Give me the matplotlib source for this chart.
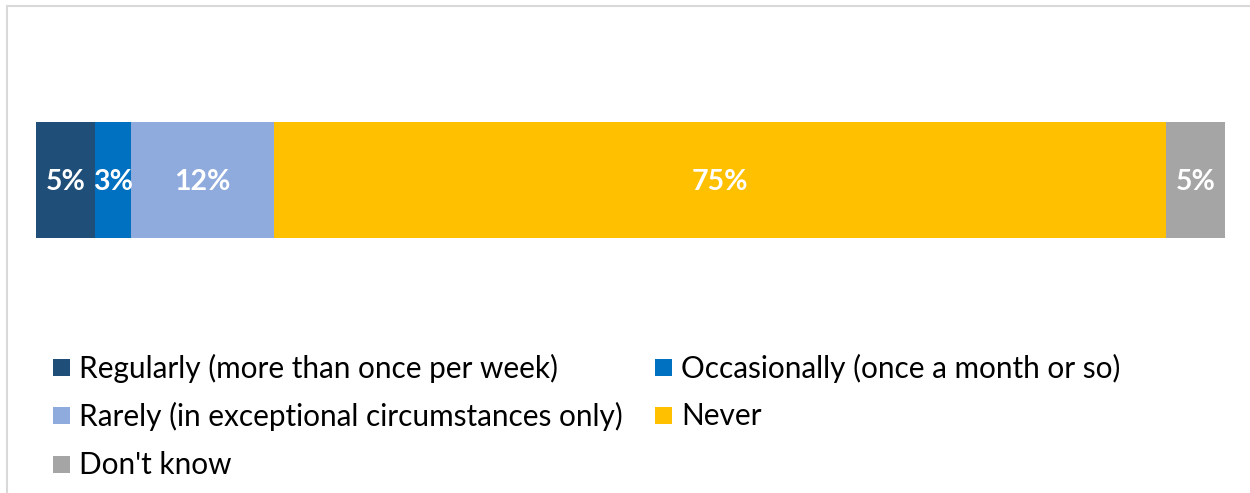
import matplotlib
matplotlib.use("Agg")
import matplotlib.pyplot as plt
from matplotlib.patches import Rectangle

# Survey response shares (%)
categories = [
    "Regularly (more than once per week)",
    "Occasionally (once a month or so)",
    "Rarely (in exceptional circumstances only)",
    "Never",
    "Don't know",
]
values = [5, 3, 12, 75, 5]
colors = ["#1F4E79", "#0070C0", "#8FAADC", "#FFC000", "#A5A5A5"]

plt.rcParams["font.family"] = ["Lato", "DejaVu Sans"]

W, H = 1250, 493
fig = plt.figure(figsize=(W / 100, H / 100), dpi=100)

# light frame around the chart area
fig.patches.append(Rectangle((6.5 / W, -0.1), 1.2, 1 - 6.5 / H + 0.1,
                             transform=fig.transFigure, fill=False,
                             edgecolor="#D9D9D9", linewidth=1.5))

ax = fig.add_axes([36 / W, 1 - 238 / H, 1189 / W, 116 / H])
left = 0
for v, c in zip(values, colors):
    ax.barh(0, v, left=left, height=1.0, color=c, edgecolor="none")
    ax.text(left + v / 2, -0.015, f"{v}%", ha="center", va="center",
            color="white", fontsize=20.5, fontweight="bold")
    left += v
ax.set_xlim(0, sum(values))
ax.set_ylim(-0.5, 0.5)
ax.axis("off")

# legend laid out row by row in two columns
col_x = [53, 655]
row_y = [367, 415, 464]
sq = 17
for i, (lab, c) in enumerate(zip(categories, colors)):
    r, k = divmod(i, 2)
    x, y = col_x[k], row_y[r]
    fig.patches.append(Rectangle((x / W, 1 - (y + sq / 2) / H), sq / W, sq / H,
                                 transform=fig.transFigure, facecolor=c,
                                 edgecolor="none"))
    fig.text((x + sq + 9) / W, 1 - (y + 1) / H, lab, ha="left", va="center",
             fontsize=21.4, color="#000000")

fig.savefig("out.png", dpi=100)
